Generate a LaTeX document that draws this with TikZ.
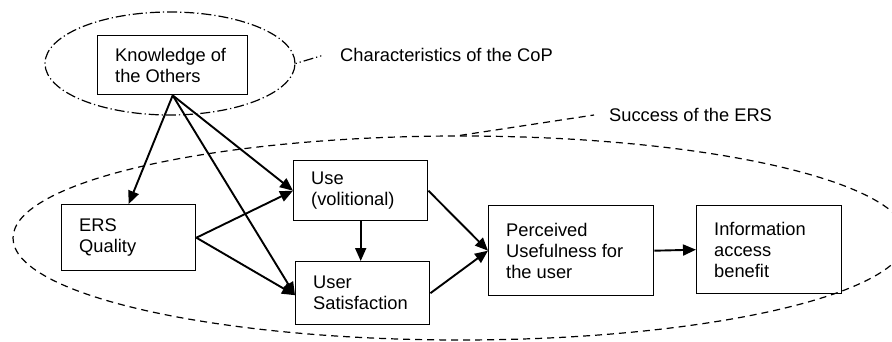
\documentclass[tikz,border=0pt]{standalone}
\usepackage{fontspec}
\setmainfont{Liberation Sans}
\usetikzlibrary{shapes.geometric,arrows.meta}
\begin{document}
\begin{tikzpicture}[x=1pt,y=-1pt,
  every node/.style={font=\fontsize{18.3pt}{21pt}\selectfont},
  boxnode/.style={draw, line width=1.4pt, rectangle, inner sep=0pt, anchor=north west},
  txt/.style={anchor=west, align=left, inner sep=0pt, xshift=18pt},
  arr/.style={line width=1.9pt, -{Triangle[length=13pt,width=11pt]}},
  dashring/.style={draw, ellipse, inner sep=0pt, line width=1.2pt, dash pattern=on 7pt off 5pt},
  dotring/.style={draw, ellipse, inner sep=0pt, line width=1.2pt, dash pattern=on 10pt off 3pt on 1.2pt off 3pt}
]
\useasboundingbox (0,0) rectangle (892,342);
\clip (0,0) rectangle (892,342);
\fill[white] (0,0) rectangle (892,342);

% rings
\node[dotring, minimum width=250pt, minimum height=103pt] (cop) at (170,63.5) {};
\node[dashring, minimum width=894pt, minimum height=204pt] (ers) at (460,238) {};

% boxes
\node[boxnode, minimum width=150pt, minimum height=59pt] (know) at (97,35) {};
\node[boxnode, minimum width=134pt, minimum height=66pt] (qual) at (61,204) {};
\node[boxnode, minimum width=134pt, minimum height=60pt] (use) at (293,160) {};
\node[boxnode, minimum width=134pt, minimum height=63pt] (sat) at (295,261) {};
\node[boxnode, minimum width=165pt, minimum height=90pt] (perc) at (488,205) {};
\node[boxnode, minimum width=145pt, minimum height=88pt] (info) at (696,205) {};

% texts
\node[txt] (knowt) at (know.west) {Knowledge of\\the Others};
\node[txt] (qualt) at (qual.west) {ERS\\Quality};
\node[txt] (uset) at (use.west) {Use\\(volitional)};
\node[txt] (satt) at (sat.west) {User\\Satisfaction};
\node[txt] (perct) at (perc.west) {Perceived\\Usefulness for\\the user};
\node[txt] (infot) at (info.west) {Information\\access\\benefit};

% labels
\node[anchor=west, inner sep=0pt] (copt) at (340,55) {Characteristics of the CoP};
\node[anchor=west, inner sep=0pt] (succt) at (609,115) {Success of the ERS};

% leaders
\draw[line width=1.2pt, dash pattern=on 1.2pt off 3pt on 1.2pt off 3pt on 10pt off 3pt] (cop.east) -- ([xshift=-16pt]copt.west);
\draw[line width=1.2pt, dash pattern=on 7pt off 5pt] (ers.north) -- ([xshift=-15pt]succt.west);

% arrows
\draw[arr] (know.south) -- (qual.north);
\draw[arr] (know.south) -- (use.west);
\draw[arr] (know.south) -- ([yshift=-2pt]sat.west);
\draw[arr] (qual.east) -- (use.west);
\draw[arr] (qual.east) -- ([yshift=-2pt]sat.west);
\draw[arr] (use.south) -- (use.south |- sat.north);
\draw[arr] (use.east) -- (perc.west);
\draw[arr] (sat.east) -- (perc.west);
\draw[arr] (perc.east) -- (info.west);
\end{tikzpicture}
\end{document}
